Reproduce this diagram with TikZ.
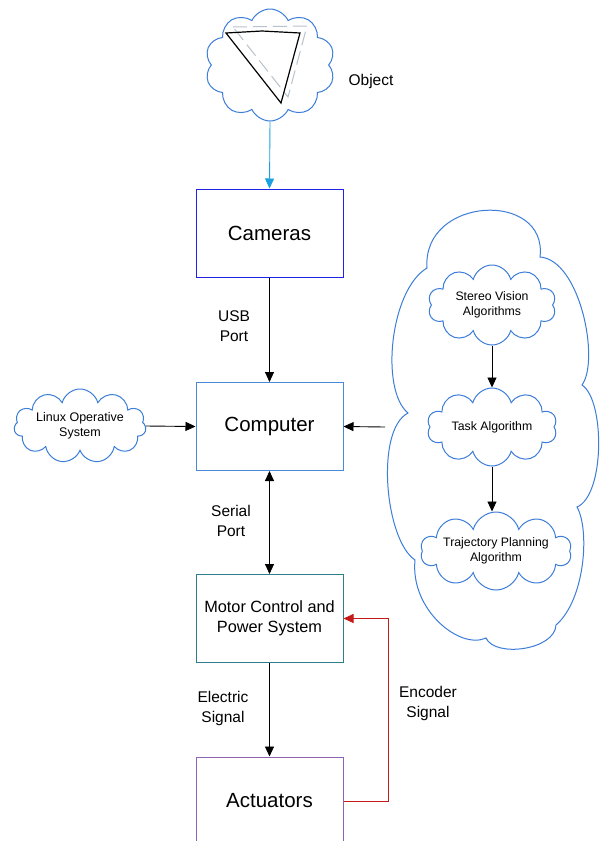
\documentclass[tikz,border=0pt]{standalone}
\usepackage{fontspec}
\setmainfont{Liberation Sans}
\usetikzlibrary{shapes.symbols,arrows.meta}
\definecolor{cloudblue}{HTML}{3C7DD9}
\definecolor{camblue}{HTML}{2222E6}
\definecolor{compblue}{HTML}{4A88D8}
\definecolor{motteal}{HTML}{2E7D8A}
\definecolor{actpurple}{HTML}{8E63B4}
\definecolor{encred}{HTML}{C41A1A}
\definecolor{topcyan}{HTML}{1BA1E2}
\definecolor{ghost}{HTML}{B8C2CC}
\begin{document}
\begin{tikzpicture}[x=1pt,y=-1pt,
  cloudbox/.style={cloud, draw=cloudblue, line width=1pt, cloud ignores aspect, inner sep=0pt, align=center, font=\fontsize{12.3}{15}\selectfont},
  blockbox/.style={draw, line width=1pt, minimum width=147pt, minimum height=88pt, inner sep=0pt, align=center, font=\fontsize{20.5}{24}\selectfont},
  lbl/.style={align=center, font=\fontsize{15.5}{20}\selectfont},
  arr/.style={line width=0.9pt, -{Triangle[length=10pt,width=9pt]}},
  darr/.style={line width=0.9pt, {Triangle[length=10pt,width=9pt]}-{Triangle[length=10pt,width=9pt]}}]
\clip (0,0) rectangle (607,841);
\fill[white] (0,0) rectangle (607,841);

% Object cloud
\node[cloudbox, cloud puffs=10, cloud puff arc=130, minimum width=130pt, minimum height=112pt] (obj) at (270,65) {};
\draw[ghost, line width=1pt, dash pattern=on 14pt off 6pt] (233,27) -- (307,26) -- (288,97) -- cycle;
\draw[black, line width=1.2pt] (226,33) -- (262,31) -- (300,33) -- (281,103) -- cycle;
\node[lbl, font=\fontsize{15.5}{18}\selectfont] (objlbl) at (371,81) {Object};

% Blocks
\node[blockbox, draw=camblue] (cam) at (269.5,233) {Cameras};
\node[blockbox, draw=compblue] (comp) at (269.5,426.5) {Computer};
\node[blockbox, draw=motteal, font=\fontsize{16.3}{19.5}\selectfont] (mot) at (269.5,618.5) {Motor Control and\\Power System};
\node[blockbox, draw=actpurple] (act) at (269.5,801) {Actuators};

% Linux cloud
\node[cloudbox, cloud puffs=11, minimum width=132pt, minimum height=74pt, font=\fontsize{12.5}{14.5}\selectfont] (linux) at (80,426) {Linux Operative\\System};

% Big cloud (drawn outline)
\draw[cloudblue, line width=1pt]
  (427,268) .. controls (422,196) and (548,190) .. (540,257)
  .. controls (580,260) and (600,360) .. (582,385)
  .. controls (605,400) and (605,495) .. (577,507)
  .. controls (590,530) and (585,600) .. (556,625)
  .. controls (555,650) and (495,658) .. (486,638)
  .. controls (460,650) and (410,610) .. (415,560)
  .. controls (385,540) and (375,430) .. (408,413)
  .. controls (380,390) and (390,290) .. cycle;
\node[cloudbox, cloud puffs=10, minimum width=128pt, minimum height=80pt] (sv) at (492,305) {Stereo Vision\\Algorithms};
\node[cloudbox, cloud puffs=10, minimum width=130pt, minimum height=78pt] (task) at (492,427) {Task Algorithm};
\node[cloudbox, cloud puffs=10, minimum width=130pt, minimum height=78pt] (traj) at (496,551) {Trajectory Planning\\Algorithm};
\coordinate (bigin) at (385,427);

% Connectors
\draw[arr, topcyan] (obj.south) -- (cam.north);
\draw[arr] (cam.south) -- (comp.north);
\draw[arr] (linux.east) -- (comp.west);
\draw[arr] (bigin) -- (comp.east);
\draw[arr] (sv.south) -- (sv.south |- task.north);
\draw[arr] (task.south) -- (task.south |- traj.north);
\draw[darr] (comp.south) -- (mot.north);
\draw[arr] (mot.south) -- (act.north);
\draw[arr, encred] (act.east) -- ++(45,0) |- (mot.east);

% Labels
\node[lbl] (usb) at (234,326) {USB\\Port};
\node[lbl] (serial) at (231,521) {Serial\\Port};
\node[lbl] (elec) at (223,708) {Electric\\Signal};
\node[lbl] (enc) at (428,703) {Encoder\\Signal};
\end{tikzpicture}
\end{document}
